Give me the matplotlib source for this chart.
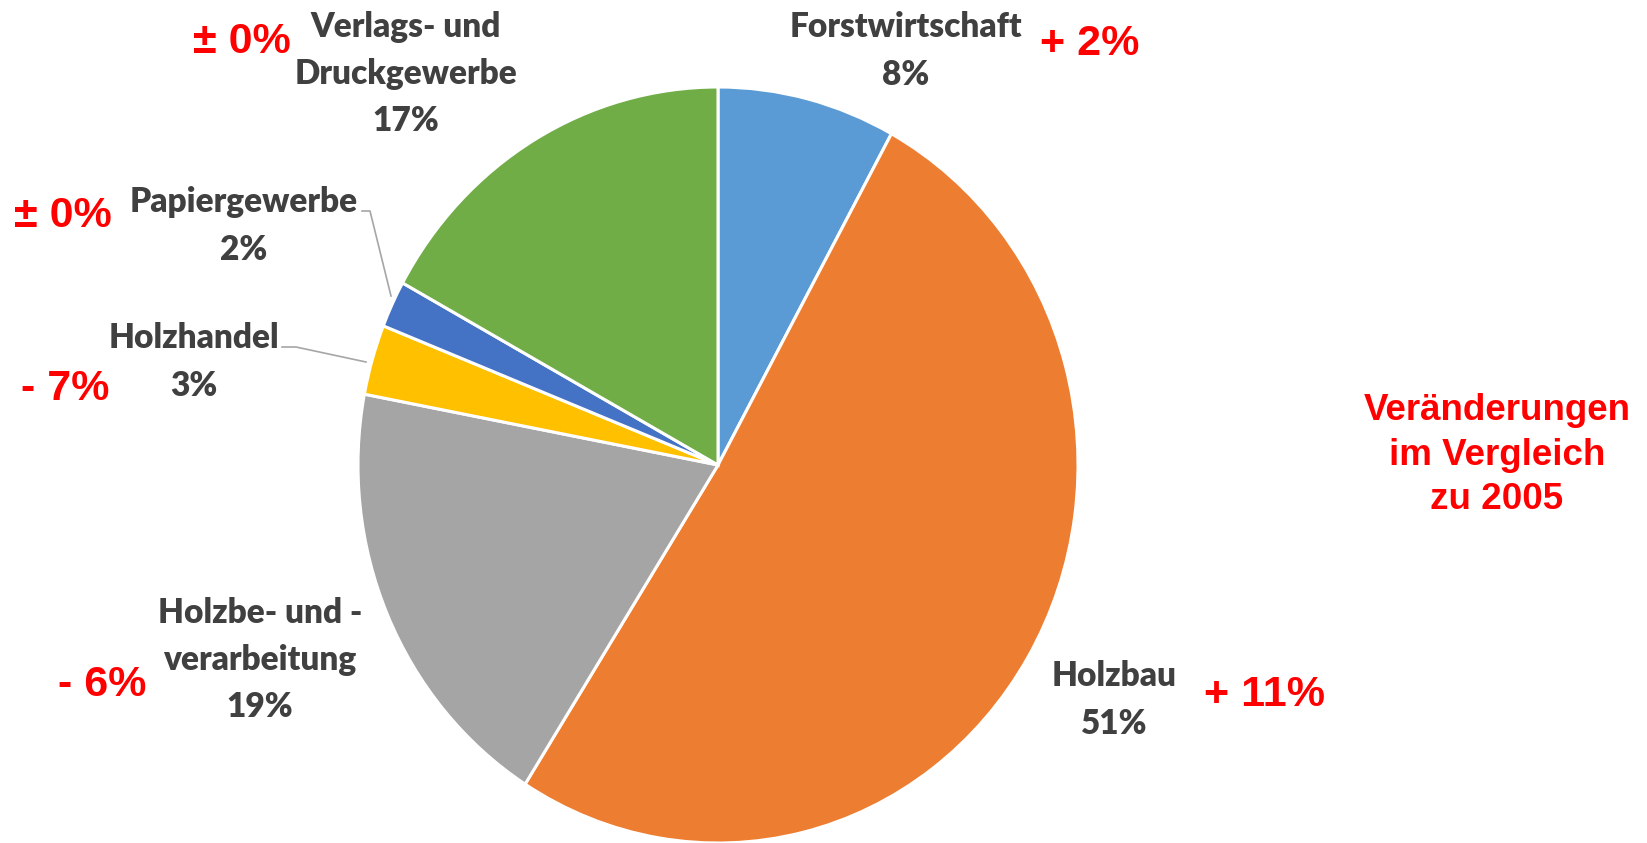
import matplotlib.pyplot as plt
from matplotlib.lines import Line2D

categories = ["Forstwirtschaft", "Holzbau", "Holzbe- und -\nverarbeitung",
              "Holzhandel", "Papiergewerbe", "Verlags- und\nDruckgewerbe"]
shares = [8, 51, 19, 3, 2, 17]
changes = ["+ 2%", "+ 11%", "- 6%", "- 7%", "± 0%", "± 0%"]
note = "Veränderungen\nim Vergleich\nzu 2005"

colors = ["#5B9BD5", "#ED7D31", "#A5A5A5", "#FFC000", "#4472C4", "#70AD47"]

W, H = 1647, 843
# label and change positions in pixels (x, y from top)
label_pos = [(906, 51), (1114, 700), (260, 660), (194, 362), (244, 226), (406, 74)]
change_pos = [(1090, 44), (1264, 695), (102, 685), (65, 389), (63, 216), (242, 42)]


def fpos(x, y):
    return x / W, 1 - y / H


fig = plt.figure(figsize=(W / 100, H / 100), dpi=100)
ax = fig.add_axes([358 / W, 0.0, 720 / W, 756 / H])
ax.pie(shares, colors=colors, startangle=90, counterclock=False,
       wedgeprops=dict(edgecolor="white", linewidth=2.2))
ax.set_aspect("auto")
ax.set_xlim(-1, 1)
ax.set_ylim(-1, 1)

for cat, val, (x, y) in zip(categories, shares, label_pos):
    fx, fy = fpos(x, y)
    fig.text(fx, fy, f"{cat}\n{val}%", ha="center", va="center",
             multialignment="center", fontsize=24, fontweight="heavy",
             family="Lato", color="#404040", linespacing=1.58)

for ch, (x, y) in zip(changes, change_pos):
    fx, fy = fpos(x, y)
    fig.text(fx, fy, ch, ha="center", va="center", fontsize=31,
             fontweight="bold", family="Liberation Sans", color="#FF0000")

fx, fy = fpos(1497, 455)
fig.text(fx, fy, note, ha="center", va="center", multialignment="center",
         fontsize=26.5, fontweight="bold", family="Liberation Sans",
         color="#FF0000", linespacing=1.36)

# leader lines for the small slices
for pts in [[(362, 211), (370, 211), (391, 296)],
            [(282, 347), (296, 347), (366, 362)]]:
    xs = [p[0] / W for p in pts]
    ys = [1 - p[1] / H for p in pts]
    fig.add_artist(Line2D(xs, ys, transform=fig.transFigure,
                          color="#A6A6A6", linewidth=1.2))

fig.savefig("out.png", dpi=100, facecolor="white")
